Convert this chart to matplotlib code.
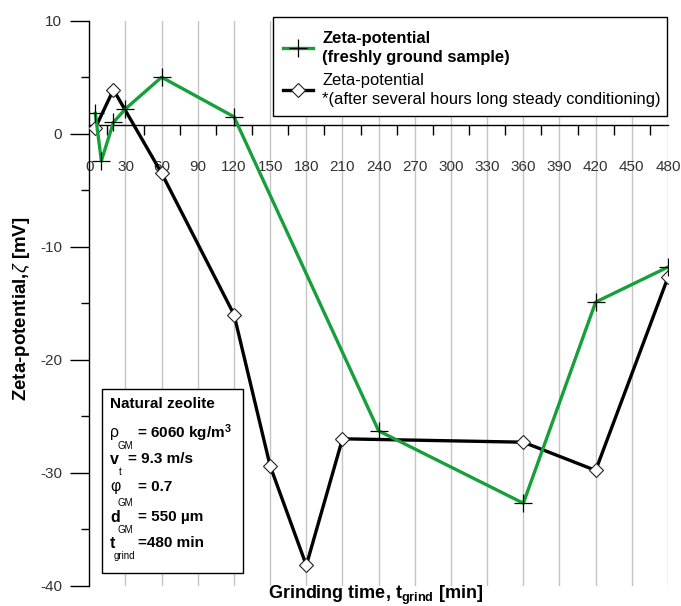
import matplotlib
matplotlib.use("Agg")
import matplotlib.pyplot as plt
from matplotlib.patches import Rectangle
from matplotlib.lines import Line2D

plt.rcParams['font.family'] = ['Liberation Sans', 'DejaVu Sans']
plt.rcParams['mathtext.fontset'] = 'custom'
plt.rcParams['mathtext.rm'] = 'Liberation Sans'
plt.rcParams['mathtext.it'] = 'Liberation Sans:italic'
plt.rcParams['mathtext.bf'] = 'Liberation Sans:bold'
plt.rcParams['axes.unicode_minus'] = False

# Zeta-potential vs grinding time
t_fresh = [5, 10, 20, 30, 60, 120, 240, 360, 420, 480]
z_fresh = [1.8, -2.4, 1.0, 2.2, 5.0, 1.5, -26.3, -32.7, -14.9, -11.8]

t_cond = [5, 20, 60, 120, 150, 180, 210, 360, 420, 480]
z_cond = [0.5, 3.9, -3.5, -16.0, -29.4, -38.2, -27.0, -27.3, -29.8, -12.7]

x_ticks = list(range(0, 481, 30))
y_ticks = [10, 0, -10, -20, -30, -40]

label_fresh = "Zeta-potential\n(freshly ground sample)"
label_cond = "Zeta-potential\n*(after several hours long steady conditioning)"

W, H = 681, 606
fig = plt.figure(figsize=(W / 100, H / 100), dpi=100)


def fx(px):
    return px / W


def fy(py):
    return 1 - py / H


ax = fig.add_axes([fx(89.3), fy(585.7), fx(668) - fx(89.3), fy(20.7) - fy(585.7)])
ax.set_xlim(0, 480)
ax.set_ylim(-40, 10)

# vertical grid
for xv in x_ticks[1:]:
    ax.axvline(xv, color='#c4c4c4', lw=1.0, zorder=0)

ax.plot(t_cond, z_cond, color='black', lw=2.4, zorder=3)
ax.plot(t_cond, z_cond, ls='none', marker='D', ms=7, mfc='white', mec='#222222',
        mew=0.8, zorder=4)
ax.plot(t_fresh, z_fresh, color='#17a03a', lw=2.4, zorder=5)
ax.plot(t_fresh, z_fresh, ls='none', marker='+', ms=13, mec='black', mew=0.9, zorder=6)

# spines
for s in ['top', 'right']:
    ax.spines[s].set_visible(False)
ax.spines['bottom'].set_position(('data', 0.75))
ax.spines['bottom'].set_linewidth(1.0)
ax.spines['left'].set_linewidth(1.0)
ax.set_facecolor('none')

ax.set_xticks(x_ticks)
ax.set_xticks([15 + 30 * k for k in range(16)], minor=True)
ax.tick_params(axis='x', which='major', length=0, pad=25, labelsize=11, labelcolor='#333333')
ax.tick_params(axis='x', which='minor', length=7, width=1.0, direction='out')

ax.set_yticks(y_ticks)
ax.set_yticks([5, -5, -15, -25, -35], minor=True)
ax.tick_params(axis='y', which='major', length=13.5, width=1.0, pad=6, labelsize=11,
               labelcolor='#333333')
ax.tick_params(axis='y', which='minor', length=6, width=1.0)

fig.text(fx(21.5), fy(309), "Zeta-potential,$\\zeta$ [mV]", rotation=90, ha='center',
         va='center', fontsize=13.5, fontweight='bold')
fig.text(fx(376), fy(595), "Grinding time, $\\mathbf{t_{grind}}$ [min]", ha='center',
         va='center', fontsize=13, fontweight='bold')

# legend frame and entries
fig.patches.append(Rectangle((fx(273.3), fy(116)), fx(667.3) - fx(273.3), fy(16.7) - fy(116),
                             transform=fig.transFigure, facecolor='white',
                             edgecolor='black', lw=1.0, zorder=8))
handles = [
    Line2D([], [], color='#17a03a', lw=2.4, marker='+', ms=13, mec='black', mew=0.9),
    Line2D([], [], color='black', lw=2.4, marker='D', ms=7, mfc='white', mec='#222222', mew=0.8),
]
leg = fig.legend(handles, [label_fresh, label_cond], loc='upper left',
                 bbox_to_anchor=(fx(282.7), fy(31)), fontsize=11.9, frameon=False,
                 handlelength=1.85, handletextpad=0.55, borderpad=0, labelspacing=0.5,
                 borderaxespad=0)
leg.set_zorder(9)
for t in leg.get_texts():
    t.set_linespacing(1.32)
leg.get_texts()[0].set_fontweight('bold')

# parameter box
fig.patches.append(Rectangle((fx(101.7), fy(572.7)), fx(242.7) - fx(101.7),
                             fy(389) - fy(572.7), transform=fig.transFigure,
                             facecolor='white', edgecolor='black', lw=1.0, zorder=10))

# (symbol, symbol weight, subscript, value text, baseline y, subscript x, subscript y, value x)
info_rows = [
    ("\u03c1", 'normal', "GM", "= 6060 kg/m$^{\\mathbf{3}}$", 433, 118, 446, 136.7),
    ("v", 'bold', "t", "= 9.3 m/s", 459, 118.5, 472, 128.3),
    ("\u03c6", 'normal', "GM", "= 0.7", 487, 118, 503, 138.3),
    ("d", 'bold', "GM", "= 550 \u00b5m", 517, 118, 530, 138.3),
    ("t", 'bold', "grind", "=480 min", 543, 114, 556, 138.3),
]
fig.text(fx(110), fy(404), "Natural zeolite", ha='left', va='center', fontsize=11,
         fontweight='bold', zorder=11)
for sym, w, sub, val, py, sx, sy, vx in info_rows:
    fig.text(fx(110), fy(py), sym, ha='left', va='center', fontsize=11.5,
             fontweight=w, zorder=11)
    fig.text(fx(sx), fy(sy), sub, ha='left', va='center', fontsize=7, zorder=11)
    fig.text(fx(vx), fy(py), val, ha='left', va='center', fontsize=11,
             fontweight='bold', zorder=11)

fig.savefig("out.png", dpi=100)
